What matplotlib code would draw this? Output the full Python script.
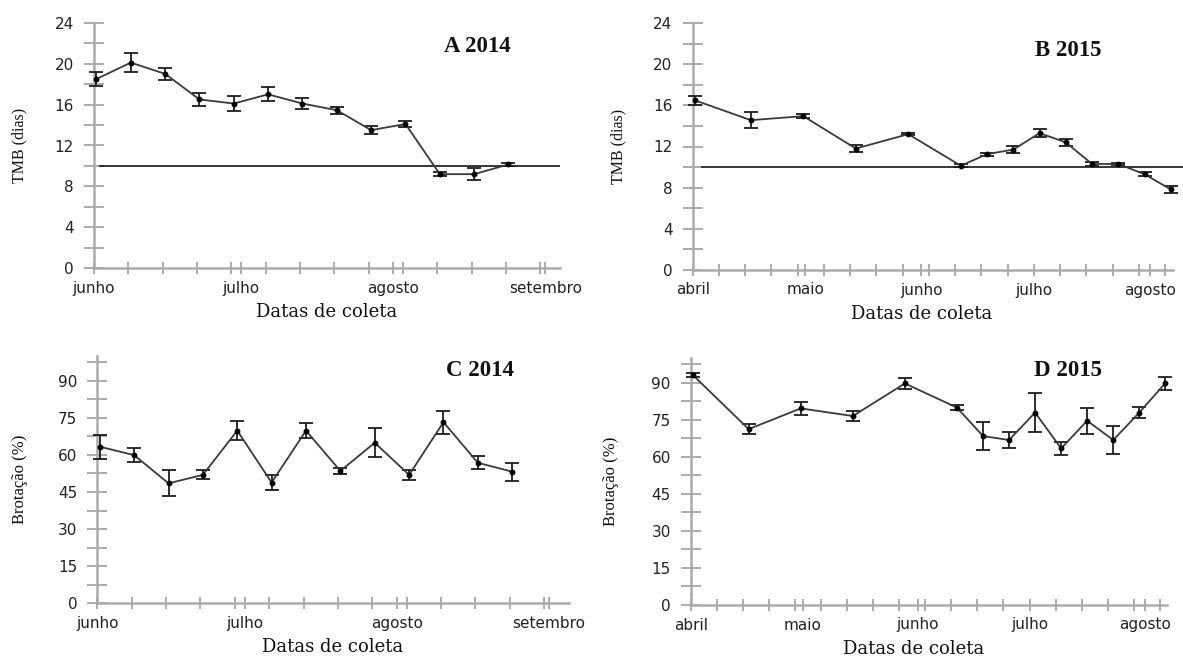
import numpy as np
import matplotlib
matplotlib.use("Agg")
import matplotlib.pyplot as plt
from matplotlib.ticker import FixedLocator, NullFormatter

# ---------------- data ----------------
# collection dates as days since the first day of the first month shown
days_2014 = [0.5, 7.5, 14.5, 21.5, 28.5, 35.5, 42.5, 49.5, 56.5, 63.5, 70.5, 77.5, 84.5]
days_2015 = [0.5, 15.5, 29.5, 43.5, 57.5, 71.5, 78.5, 85.5, 92.5, 99.5, 106.5, 113.5, 120.5, 127.5]

tmb_2014 = [18.5, 20.1, 19.0, 16.5, 16.1, 17.0, 16.1, 15.45, 13.5, 14.1, 9.2, 9.2, 10.15]
tmb_2014_err = [0.7, 0.9, 0.57, 0.63, 0.73, 0.68, 0.58, 0.33, 0.36, 0.33, 0.2, 0.57, 0.15]

tmb_2015 = [16.5, 14.56, 14.95, 11.8, 13.2, 10.13, 11.26, 11.7, 13.3, 12.4, 10.3, 10.3, 9.3, 7.83]
tmb_2015_err = [0.42, 0.8, 0.2, 0.3, 0.13, 0.15, 0.15, 0.32, 0.39, 0.32, 0.15, 0.12, 0.2, 0.32]

brot_2014 = [63.3, 59.9, 48.5, 51.9, 69.8, 48.8, 69.8, 53.5, 64.9, 51.9, 73.2, 56.8, 53.2]
brot_2014_err = [4.85, 2.96, 5.25, 1.8, 3.8, 3.2, 3.0, 1.2, 5.9, 1.9, 4.6, 2.7, 3.6]

brot_2015 = [93.1, 71.2, 79.6, 76.5, 89.7, 79.9, 68.4, 66.8, 77.9, 63.4, 74.6, 66.8, 77.9, 89.8]
brot_2015_err = [0.95, 2.0, 2.7, 1.9, 2.4, 1.0, 5.7, 3.3, 7.8, 2.6, 5.3, 5.5, 2.2, 2.7]

months_2014 = ["junho", "julho", "agosto", "setembro"]
month_start_2014 = [0, 30, 61, 92]
weeks_2014 = list(range(0, 92, 7))

months_2015 = ["abril", "maio", "junho", "julho", "agosto"]
month_start_2015 = [0, 30, 61, 91, 122]
weeks_2015 = list(range(0, 127, 7))

tmb_ticks = [0, 4, 8, 12, 16, 20, 24]
tmb_minor = list(range(0, 25, 2))
brot_ticks = [0, 15, 30, 45, 60, 75, 90]
brot_minor = list(np.arange(0, 98, 7.5))

tmb_reference = 10

# ---------------- figure ----------------
W, H = 1183, 657
fig = plt.figure(figsize=(W / 100, H / 100), dpi=100)

AX_GRAY = "#ababab"
LINE_C = "#3a3a3a"


def px_rect(x0, y_bottom_px, width, height):
    return [x0 / W, (H - y_bottom_px) / H, width / W, height / H]


def style_axes(ax, month_pos, month_lbl, weeks, yt, ymin_t, xmax, spine_end, ylabel,
               ylab_size, ylab_x, xlab_x, title, tx, ty):
    for s in ("top", "right"):
        ax.spines[s].set_visible(False)
    for s in ("left", "bottom"):
        ax.spines[s].set_color(AX_GRAY)
        ax.spines[s].set_linewidth(1.8)
    ax.spines["bottom"].set_bounds(0, spine_end)
    ax.set_xlim(0, xmax)
    ax.xaxis.set_major_locator(FixedLocator(month_pos))
    ax.set_xticklabels(month_lbl)
    ax.xaxis.set_minor_locator(FixedLocator(weeks))
    ax.xaxis.set_minor_formatter(NullFormatter())
    ax.yaxis.set_major_locator(FixedLocator(yt))
    ax.yaxis.set_minor_locator(FixedLocator(ymin_t))
    ax.tick_params(axis="x", which="both", direction="inout", length=8, width=1.4,
                   color=AX_GRAY, pad=5)
    ax.tick_params(axis="y", which="both", direction="inout", length=15, width=1.4,
                   color=AX_GRAY, pad=7)
    for lab in ax.get_xticklabels() + ax.get_yticklabels():
        lab.set_fontfamily("DejaVu Sans")
        lab.set_fontsize(11)
        lab.set_color("#222222")
    ax.set_xlabel("Datas de coleta", fontfamily="DejaVu Serif", fontsize=13, color="#111111")
    ax.xaxis.set_label_coords(xlab_x, -0.14)
    ax.set_ylabel(ylabel, fontfamily="Liberation Serif", fontsize=ylab_size, color="#111111")
    ax.yaxis.label.set_va("center")
    ax.yaxis.set_label_coords(ylab_x, 0.5)
    ax.text(tx, ty, title, transform=ax.transAxes, ha="center", va="center",
            fontfamily="Liberation Serif", fontweight="bold", fontsize=16.5, color="#111111")


def draw_series(ax, x, y, e):
    ax.errorbar(x, y, yerr=e, color=LINE_C, lw=1.3, marker="o", ms=3.2,
                mfc="black", mec="black", ecolor="#1e1e1e", elinewidth=1.3,
                capsize=4.7, capthick=1.3, zorder=3, clip_on=False)


# Panel A
axA = fig.add_axes(px_rect(94, 268.3, 466, 245.6))
axA.set_ylim(0, 24)
axA.plot([1.2, 95], [tmb_reference, tmb_reference], color="black", lw=1.1, zorder=2)
draw_series(axA, days_2014, tmb_2014, tmb_2014_err)
style_axes(axA, month_start_2014, months_2014, weeks_2014, tmb_ticks, tmb_minor, 95, 95,
           "TMB (dias)", 11.5, -0.16, 0.5, "A 2014", 0.822, 0.902)

# Panel B
axB = fig.add_axes(px_rect(692.7, 270, 487.5, 247))
axB.set_ylim(0, 24)
axB.plot([2.4, 131], [tmb_reference, tmb_reference], color="black", lw=1.1, zorder=2,
         clip_on=False)
draw_series(axB, days_2015, tmb_2015, tmb_2015_err)
style_axes(axB, month_start_2015, months_2015, weeks_2015, tmb_ticks, tmb_minor, 130, 128,
           "TMB (dias)", 11.5, -0.152, 0.47, "B 2015", 0.77, 0.89)

# Panel C
axC = fig.add_axes(px_rect(97.3, 603.3, 471.4, 247.4))
axC.set_ylim(0, 100)
draw_series(axC, days_2014, brot_2014, brot_2014_err)
style_axes(axC, month_start_2014, months_2014, weeks_2014, brot_ticks, brot_minor, 96, 96,
           "Brotação (%)", 12, -0.165, 0.5, "C 2014", 0.812, 0.943)

# Panel D
axD = fig.add_axes(px_rect(691, 605, 483.6, 247))
axD.set_ylim(0, 100)
draw_series(axD, days_2015, brot_2015, brot_2015_err)
style_axes(axD, month_start_2015, months_2015, weeks_2015, brot_ticks, brot_minor, 130, 128,
           "Brotação (%)", 12, -0.165, 0.46, "D 2015", 0.78, 0.951)

fig.savefig("out.png", dpi=100, facecolor="white")
